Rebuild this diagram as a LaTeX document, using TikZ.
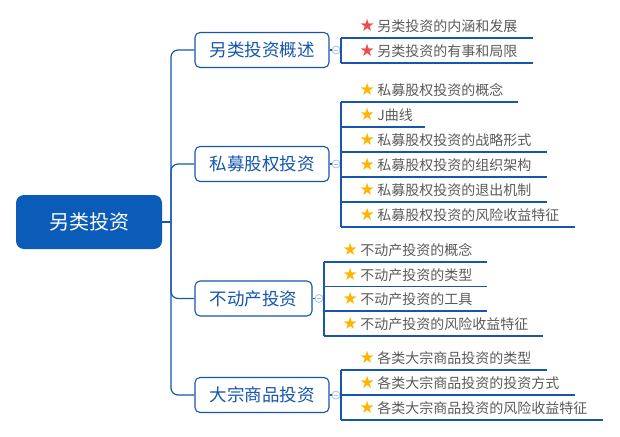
\documentclass[tikz,border=0pt]{standalone}
\usepackage{fontspec}
\usepackage{tikz}
\setmainfont{Noto Sans CJK SC}
\newfontfamily\starfont{DejaVu Sans}
\definecolor{rootblue}{HTML}{0B5CB8}
\definecolor{lineblue}{HTML}{1656AE}
\definecolor{itemgray}{HTML}{5A5A5A}
\definecolor{foldblue}{HTML}{A9BEE6}
\definecolor{starred}{HTML}{EE4B4B}
\definecolor{staryellow}{HTML}{FFB400}
\newcommand{\rstar}{\hspace*{18.5pt}{\starfont\fontsize{17}{17}\selectfont\color{starred}★}\hspace{2.5pt}}
\newcommand{\ystar}{\hspace*{18.5pt}{\starfont\fontsize{17}{17}\selectfont\color{staryellow}★}\hspace{2.5pt}}

\begin{document}
\begin{tikzpicture}[x=1pt,y=-1pt,
    root/.style={rectangle, rounded corners=8pt, fill=rootblue, text=white,
      font=\fontsize{20}{20}\selectfont, minimum width=146pt, minimum height=54pt, inner sep=0},
    topic/.style={rectangle, rounded corners=5pt, draw=lineblue, line width=1.1pt, fill=white,
      text=lineblue, font=\fontsize{17.5}{18}\selectfont, minimum height=35pt, inner sep=0},
    fold/.style={circle, draw=foldblue, fill=white, minimum size=8pt, inner sep=0, line width=0.8pt,
      path picture={\draw[foldblue, line width=0.8pt] ([xshift=-2.2pt]path picture bounding box.center)
        -- ([xshift=2.2pt]path picture bounding box.center);}},
    item/.style={anchor=south west, inner sep=0, text height=12pt, text depth=6pt, align=left,
      text=itemgray, font=\fontsize{14}{14}\selectfont},
    link/.style={draw=lineblue, line width=1.2pt}]
  \useasboundingbox (0,0) rectangle (620,436);

  \node[root] (inv) at (89,222) {另类投资};
  \coordinate (hub) at (171,222);

  \node[topic, minimum width=134pt] (ovw) at (262,50) {另类投资概述};
  \node[topic, minimum width=134pt] (pe) at (262,164) {私募股权投资};
  \node[topic, minimum width=117pt] (re) at (253.5,298.5) {不动产投资};
  \node[topic, minimum width=134pt] (cmd) at (262,395) {大宗商品投资};

  \node[fold] (fovw) at (336,50) {};
  \node[fold] (fpe) at (336,164) {};
  \node[fold] (fre) at (319,298.5) {};
  \node[fold] (fcmd) at (336,395) {};

  \node[item, text width=192pt] (ovw1) at (341,38) {\rstar 另类投资的内涵和发展};
  \node[item, text width=192pt] (ovw2) at (341,63) {\rstar 另类投资的有事和局限};

  \node[item, text width=177pt] (pe1) at (341,102) {\ystar 私募股权投资的概念};
  \node[item, text width=84pt] (pe2) at (341,127) {\ystar J曲线};
  \node[item, text width=206pt] (pe3) at (341,152) {\ystar 私募股权投资的战略形式};
  \node[item, text width=206pt] (pe4) at (341,177) {\ystar 私募股权投资的组织架构};
  \node[item, text width=206pt] (pe5) at (341,202) {\ystar 私募股权投资的退出机制};
  \node[item, text width=234pt] (pe6) at (341,227) {\ystar 私募股权投资的风险收益特征};

  \node[item, text width=163pt] (re1) at (324,262) {\ystar 不动产投资的概念};
  \node[item, text width=163pt] (re2) at (324,286.5) {\ystar 不动产投资的类型};
  \node[item, text width=163pt] (re3) at (324,311) {\ystar 不动产投资的工具};
  \node[item, text width=219pt] (re4) at (324,336) {\ystar 不动产投资的风险收益特征};

  \node[item, text width=206pt] (cmd1) at (341,370) {\ystar 各类大宗商品投资的类型};
  \node[item, text width=234pt] (cmd2) at (341,395) {\ystar 各类大宗商品投资的投资方式};
  \node[item, text width=262pt] (cmd3) at (341,420) {\ystar 各类大宗商品投资的风险收益特征};

  \draw[link] (inv.east) -- (hub);
  \draw[link, rounded corners=7pt] (hub) |- (ovw.west);
  \draw[link, rounded corners=7pt] (hub) |- (pe.west);
  \draw[link, rounded corners=7pt] (hub) |- (re.west);
  \draw[link, rounded corners=7pt] (hub) |- (cmd.west);

  \draw[link] (ovw.east) -- (fovw.west);
  \draw[link] (pe.east) -- (fpe.west);
  \draw[link] (re.east) -- (fre.west);
  \draw[link] (cmd.east) -- (fcmd.west);
  \draw[link] (fovw.east) -- (fovw.east -| ovw1.south west);
  \draw[link] (fpe.east) -- (fpe.east -| pe1.south west);
  \draw[link] (fre.east) -- (fre.east -| re1.south west);
  \draw[link] (fcmd.east) -- (fcmd.east -| cmd1.south west);

  \draw[link] (ovw1.south west) -- (ovw2.south west);
  \draw[link] (pe1.south west) -- (pe6.south west);
  \draw[link] (re1.south west) -- (re4.south west);
  \draw[link] (cmd1.south west) -- (cmd3.south west);

  \draw[link] (ovw1.south west) -- (ovw1.south east);
  \draw[link] (ovw2.south west) -- (ovw2.south east);
  \draw[link] (pe1.south west) -- (pe1.south east);
  \draw[link] (pe2.south west) -- (pe2.south east);
  \draw[link] (pe3.south west) -- (pe3.south east);
  \draw[link] (pe4.south west) -- (pe4.south east);
  \draw[link] (pe5.south west) -- (pe5.south east);
  \draw[link] (pe6.south west) -- (pe6.south east);
  \draw[link] (re1.south west) -- (re1.south east);
  \draw[link] (re2.south west) -- (re2.south east);
  \draw[link] (re3.south west) -- (re3.south east);
  \draw[link] (re4.south west) -- (re4.south east);
  \draw[link] (cmd1.south west) -- (cmd1.south east);
  \draw[link] (cmd2.south west) -- (cmd2.south east);
  \draw[link] (cmd3.south west) -- (cmd3.south east);
\end{tikzpicture}
\end{document}
